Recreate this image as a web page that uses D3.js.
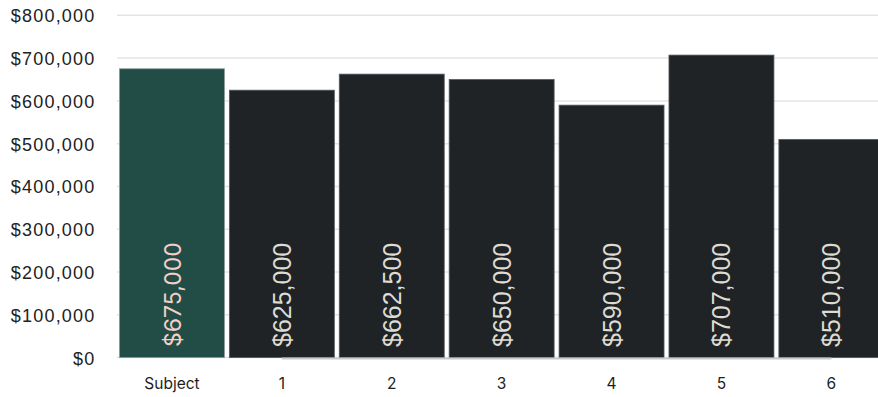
<!DOCTYPE html>
<html>
<head>
<meta charset="utf-8">
<script src="https://cdn.jsdelivr.net/npm/d3@7"></script>
<style>
  html, body { margin: 0; padding: 0; background: #fff; }
  svg { display: block; }
</style>
</head>
<body>
<svg id="chart" width="878" height="397"></svg>
<script>
// Sale prices: the subject property and six comparables
const categories = ["Subject", "1", "2", "3", "4", "5", "6"];
const prices = [675000, 625000, 662500, 650000, 590000, 707000, 510000];
const yTicks = [0, 100000, 200000, 300000, 400000, 500000, 600000, 700000, 800000];

const svg = d3.select("#chart");
const W = 878, H = 397;

const x = d3.scaleBand()
  .domain(categories)
  .range([117, 886.3])
  .paddingInner(0.045)
  .paddingOuter(0.0225);

const y = d3.scaleLinear()
  .domain([0, 800000])
  .range([357.6, 15.3]);

const money = v => "$" + d3.format(",")(v);

// horizontal gridlines
svg.append("g")
  .selectAll("line")
  .data(yTicks)
  .join("line")
  .attr("x1", 117).attr("x2", W)
  .attr("y1", d => y(d)).attr("y2", d => y(d))
  .attr("stroke", "#e4e4e4")
  .attr("stroke-width", 1.5);

// y axis labels
const yAxis = d3.axisLeft(y).tickValues(yTicks).tickFormat(money).tickSize(0).tickPadding(0);
const gy = svg.append("g").attr("transform", "translate(95.5,0)").call(yAxis);
gy.select(".domain").remove();
gy.selectAll("text")
  .attr("font-family", "'Liberation Sans', Arial, sans-serif")
  .attr("font-size", 18)
  .attr("letter-spacing", 1.2)
  .attr("fill", "#222")
  .attr("dy", "0.36em");

// bars
svg.append("g")
  .selectAll("rect")
  .data(categories)
  .join("rect")
  .attr("x", d => x(d))
  .attr("y", (d, i) => y(prices[i]))
  .attr("width", x.bandwidth())
  .attr("height", (d, i) => y(0) - y(prices[i]))
  .attr("fill", (d, i) => i === 0 ? "#214d46" : "#202326")
  .attr("stroke", (d, i) => i === 0 ? "#8a9a97" : "#55595c")
  .attr("stroke-width", 0.8);

// baseline
svg.append("line")
  .attr("x1", x("1") + x.bandwidth() / 2)
  .attr("x2", x("6") + x.bandwidth() / 2)
  .attr("y1", y(0) + 1).attr("y2", y(0) + 1)
  .attr("stroke", "#c9c9c9")
  .attr("stroke-width", 2);

// value labels inside the bars, reading upward
svg.append("g")
  .selectAll("text")
  .data(categories)
  .join("text")
  .attr("transform", d => `translate(${x(d) + x.bandwidth() / 2 + 9},347) rotate(-90)`)
  .attr("text-anchor", "start")
  .attr("font-family", (d, i) => i === 0 ? "Inter, 'Noto Sans', sans-serif" : "'Liberation Sans', Arial, sans-serif")
  .attr("font-size", (d, i) => i === 0 ? 23 : 25)
  .attr("fill", (d, i) => i === 0 ? "#f3cfc7" : "#dedbd2")
  .text((d, i) => money(prices[i]));

// x axis labels
svg.append("g")
  .selectAll("text")
  .data(categories)
  .join("text")
  .attr("x", d => x(d) + x.bandwidth() / 2)
  .attr("y", 389)
  .attr("text-anchor", "middle")
  .attr("font-family", "Inter, 'Noto Sans', sans-serif")
  .attr("font-size", 15.5)
  .attr("fill", "#1e1e1e")
  .text(d => d);
</script>
</body>
</html>
